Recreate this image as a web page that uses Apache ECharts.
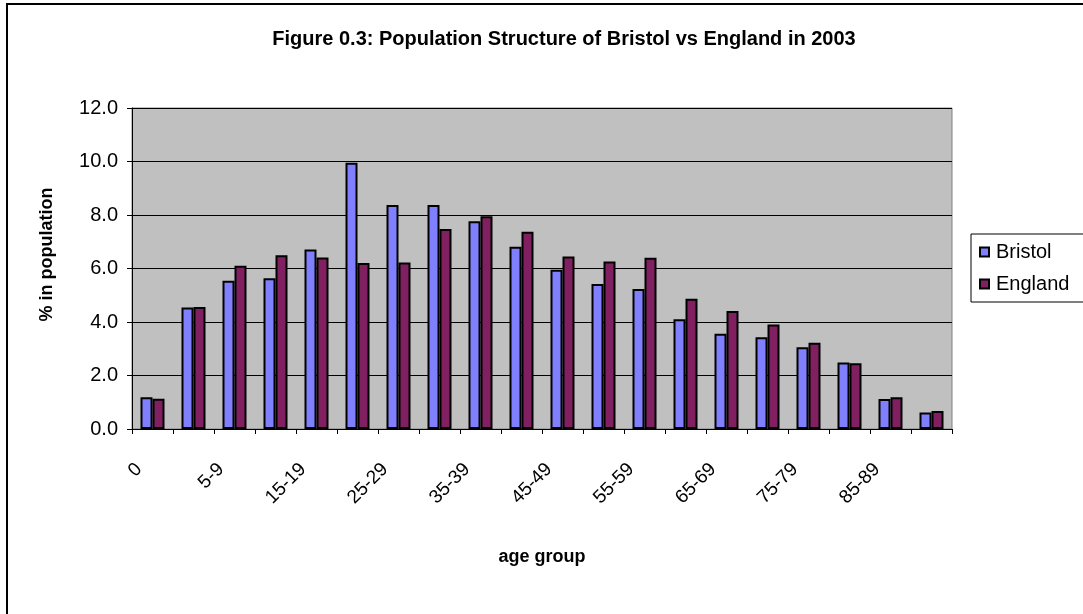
<!DOCTYPE html>
<html>
<head>
<meta charset="utf-8">
<title>Population Structure of Bristol vs England in 2003</title>
<script src="https://cdn.jsdelivr.net/npm/echarts@6/dist/echarts.min.js"></script>
<style>
  html, body { margin: 0; padding: 0; background: #ffffff; }
  #chart { width: 1083px; height: 614px; }
</style>
</head>
<body>
<div id="chart"></div>
<script>
// Age groups (five-year bands)
const ageGroups = ['0', '1-4', '5-9', '10-14', '15-19', '20-24', '25-29', '30-34', '35-39', '40-44',
  '45-49', '50-54', '55-59', '60-64', '65-69', '70-74', '75-79', '80-84', '85-89', '90+'];

// Share of population in each age group, %
const bristol = [1.19, 4.54, 5.54, 5.64, 6.71, 9.95, 8.37, 8.37, 7.77, 6.81,
  5.95, 5.42, 5.23, 4.10, 3.56, 3.43, 3.06, 2.49, 1.12, 0.62];
const england = [1.13, 4.56, 6.10, 6.50, 6.41, 6.21, 6.22, 7.48, 7.95, 7.37,
  6.45, 6.26, 6.40, 4.87, 4.41, 3.91, 3.22, 2.46, 1.19, 0.67];

const FONT = 'Arial, "Liberation Sans", sans-serif';

const chart = echarts.init(document.getElementById('chart'), null, { renderer: 'canvas' });

chart.setOption({
  animation: false,
  backgroundColor: '#ffffff',
  textStyle: { fontFamily: FONT, color: '#000000' },
  title: {
    text: 'Figure 0.3: Population Structure of Bristol vs England in 2003',
    left: 559,
    top: 24,
    textAlign: 'center',
    textStyle: { fontFamily: FONT, fontSize: 20, fontWeight: 'bold', color: '#000000' }
  },
  graphic: [{
    type: 'rect',
    silent: true,
    z: -1,
    shape: { x: 7, y: 4, width: 1200, height: 800 },
    style: { fill: 'none', stroke: '#000000', lineWidth: 2 }
  }],
  legend: {
    orient: 'vertical',
    left: 971,
    top: 234,
    padding: [8, 30, 8, 8],
    itemGap: 12,
    itemWidth: 9,
    itemHeight: 9,
    borderColor: '#000000',
    borderWidth: 1,
    backgroundColor: '#ffffff',
    icon: 'rect',
    textStyle: { fontFamily: FONT, fontSize: 20, lineHeight: 20, color: '#000000', padding: [0, 0, 0, 2] },
    data: ['Bristol', 'England']
  },
  grid: {
    left: 132,
    right: 131,
    top: 108,
    bottom: 185,
    show: true,
    backgroundColor: '#c0c0c0',
    borderColor: '#808080',
    borderWidth: 1,
    containLabel: false
  },
  xAxis: {
    type: 'category',
    data: ageGroups,
    boundaryGap: true,
    name: 'age group',
    nameLocation: 'middle',
    nameGap: 119,
    nameTextStyle: { fontFamily: FONT, fontSize: 18, fontWeight: 'bold', color: '#000000' },
    axisLine: { show: true, lineStyle: { color: '#000000', width: 1 } },
    axisTick: { show: true, interval: 0, length: 5, inside: false, lineStyle: { color: '#000000' } },
    axisLabel: {
      interval: 1,
      rotate: 45,
      margin: 24,
      padding: [0, 19, 0, 0],
      fontFamily: FONT,
      fontSize: 19,
      color: '#000000'
    },
    splitLine: { show: false }
  },
  yAxis: {
    type: 'value',
    min: 0,
    max: 12,
    interval: 2,
    name: '% in population',
    nameLocation: 'middle',
    nameRotate: 90,
    nameGap: 76,
    nameTextStyle: { fontFamily: FONT, fontSize: 18, fontWeight: 'bold', color: '#000000', padding: [0, 0, 0, 28] },
    axisLine: { show: true, lineStyle: { color: '#000000', width: 1 } },
    axisTick: { show: true, length: 5, inside: false, lineStyle: { color: '#000000' } },
    axisLabel: {
      margin: 14,
      fontFamily: FONT,
      fontSize: 20,
      color: '#000000',
      formatter: v => v.toFixed(1)
    },
    splitLine: { show: true, lineStyle: { color: '#000000', width: 1 } }
  },
  series: [
    {
      name: 'Bristol',
      type: 'bar',
      data: bristol,
      barWidth: 12,
      barGap: '0%',
      itemStyle: { color: '#8080ff', borderColor: '#000000', borderWidth: 2 }
    },
    {
      name: 'England',
      type: 'bar',
      data: england,
      barWidth: 12,
      barGap: '0%',
      itemStyle: { color: '#802060', borderColor: '#000000', borderWidth: 2 }
    }
  ]
});
</script>
</body>
</html>
